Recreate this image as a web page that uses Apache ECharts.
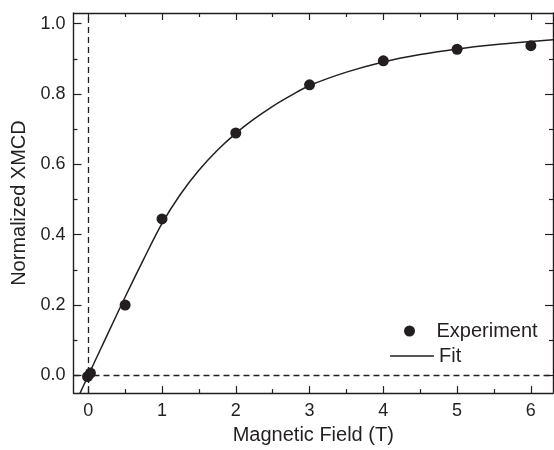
<!DOCTYPE html>
<html>
<head>
<meta charset="utf-8">
<script src="https://cdn.jsdelivr.net/npm/echarts@6/dist/echarts.min.js"></script>
<style>html,body{margin:0;padding:0;background:#fff}#c{width:554px;height:450px}</style>
</head>
<body>
<div id="c"></div>
<script>
// Data
const expX = [-0.01, 0.03, 0.5, 1, 2, 3, 4, 5, 6];
const expY = [-0.003, 0.007, 0.200, 0.445, 0.689, 0.826, 0.894, 0.927, 0.937];
const fitX = [-0.12, 0, 0.25, 0.5, 0.75, 1.0, 1.25, 1.5, 1.75, 2.0, 2.25, 2.5, 2.75, 3.0, 3.5, 4.0, 4.5, 5.0, 5.5, 6.0, 6.3];
const fitY = [-0.054, 0, 0.112, 0.223, 0.330, 0.432, 0.515, 0.583, 0.640, 0.688, 0.729, 0.765, 0.796, 0.824, 0.862, 0.891, 0.912, 0.928, 0.940, 0.949, 0.954];
const xMajor = [0, 1, 2, 3, 4, 5, 6];
const xMinor = [0.5, 1.5, 2.5, 3.5, 4.5, 5.5];
const yMajor = [0, 0.2, 0.4, 0.6, 0.8, 1.0];
const yMinor = [0.1, 0.3, 0.5, 0.7, 0.9];
const xTitle = 'Magnetic Field (T)';
const yTitle = 'Normalized XMCD';
const legendNames = ['Experiment', 'Fit'];

const ink = '#231f20';
const font = 'Liberation Sans, Arial, sans-serif';
const XMIN = -0.2, XMAX = 6.3, YMIN = -0.05, YMAX = 1.03;

function xAx(pos, ticks, len, showLine, showLabel, extra) {
  return Object.assign({
    type: 'value', position: pos, min: XMIN, max: XMAX,
    axisLine: {show: showLine, onZero: false, lineStyle: {color: ink, width: 1.4}},
    axisTick: {show: true, inside: true, length: len, customValues: ticks, lineStyle: {color: ink, width: 1.2}},
    axisLabel: showLabel ? {show: true, customValues: ticks, color: ink, fontFamily: font, fontSize: 18, margin: 9, formatter: v => String(v)} : {show: false},
    splitLine: {show: false}
  }, extra || {});
}
function yAx(pos, ticks, len, showLine, showLabel, extra) {
  return Object.assign({
    type: 'value', position: pos, min: YMIN, max: YMAX,
    axisLine: {show: showLine, onZero: false, lineStyle: {color: ink, width: 1.4}},
    axisTick: {show: true, inside: true, length: len, customValues: ticks, lineStyle: {color: ink, width: 1.2}},
    axisLabel: showLabel ? {show: true, customValues: ticks, color: ink, fontFamily: font, fontSize: 18, margin: 8, formatter: v => v.toFixed(1)} : {show: false},
    splitLine: {show: false}
  }, extra || {});
}

const chart = echarts.init(document.getElementById('c'), null, {renderer: 'canvas'});
chart.setOption({
  animation: false,
  backgroundColor: '#fff',
  grid: {left: 73.5, right: 1, top: 13, bottom: 50.5, containLabel: false},
  xAxis: [
    xAx('bottom', xMajor, 7, true, true, {name: xTitle, nameLocation: 'middle', nameGap: 27, nameTextStyle: {color: ink, fontFamily: font, fontSize: 20}}),
    xAx('bottom', xMinor, 4, false, false),
    xAx('top', xMajor, 7, true, false),
    xAx('top', xMinor, 4, false, false)
  ],
  yAxis: [
    yAx('left', yMajor, 8, true, true, {name: yTitle, nameLocation: 'middle', nameGap: 39, nameTextStyle: {color: ink, fontFamily: font, fontSize: 20}}),
    yAx('left', yMinor, 4, false, false),
    yAx('right', yMajor, 8, true, false),
    yAx('right', yMinor, 4, false, false)
  ],
  legend: [
    {
      orient: 'vertical', left: 399, top: 316,
      itemWidth: 44, itemHeight: 11,
      textStyle: {color: ink, fontFamily: font, fontSize: 20},
      data: [{name: legendNames[0], icon: 'circle', itemStyle: {color: ink, opacity: 1}}]
    },
    {
      orient: 'vertical', left: 385, top: 341,
      itemWidth: 44, itemHeight: 1.5,
      textStyle: {color: ink, fontFamily: font, fontSize: 20},
      data: [{name: legendNames[1], icon: 'rect', itemStyle: {color: ink}}]
    }
  ],
  series: [
    {
      name: legendNames[1], type: 'line', xAxisIndex: 0, yAxisIndex: 0,
      data: fitX.map((x, i) => [x, fitY[i]]),
      smooth: 0.3, showSymbol: false, symbol: 'none',
      lineStyle: {color: ink, width: 1.5}, itemStyle: {color: ink}, z: 3,
      markLine: {
        silent: true, symbol: 'none', label: {show: false},
        lineStyle: {color: ink, type: [6, 4], width: 1.3},
        data: [{xAxis: 0}, {yAxis: 0}]
      }
    },
    {
      name: legendNames[0], type: 'scatter', xAxisIndex: 0, yAxisIndex: 0,
      data: expX.map((x, i) => [x, expY[i]]),
      symbol: 'circle', symbolSize: 11, itemStyle: {color: ink, opacity: 1}, z: 4
    }
  ]
});
</script>
</body>
</html>
